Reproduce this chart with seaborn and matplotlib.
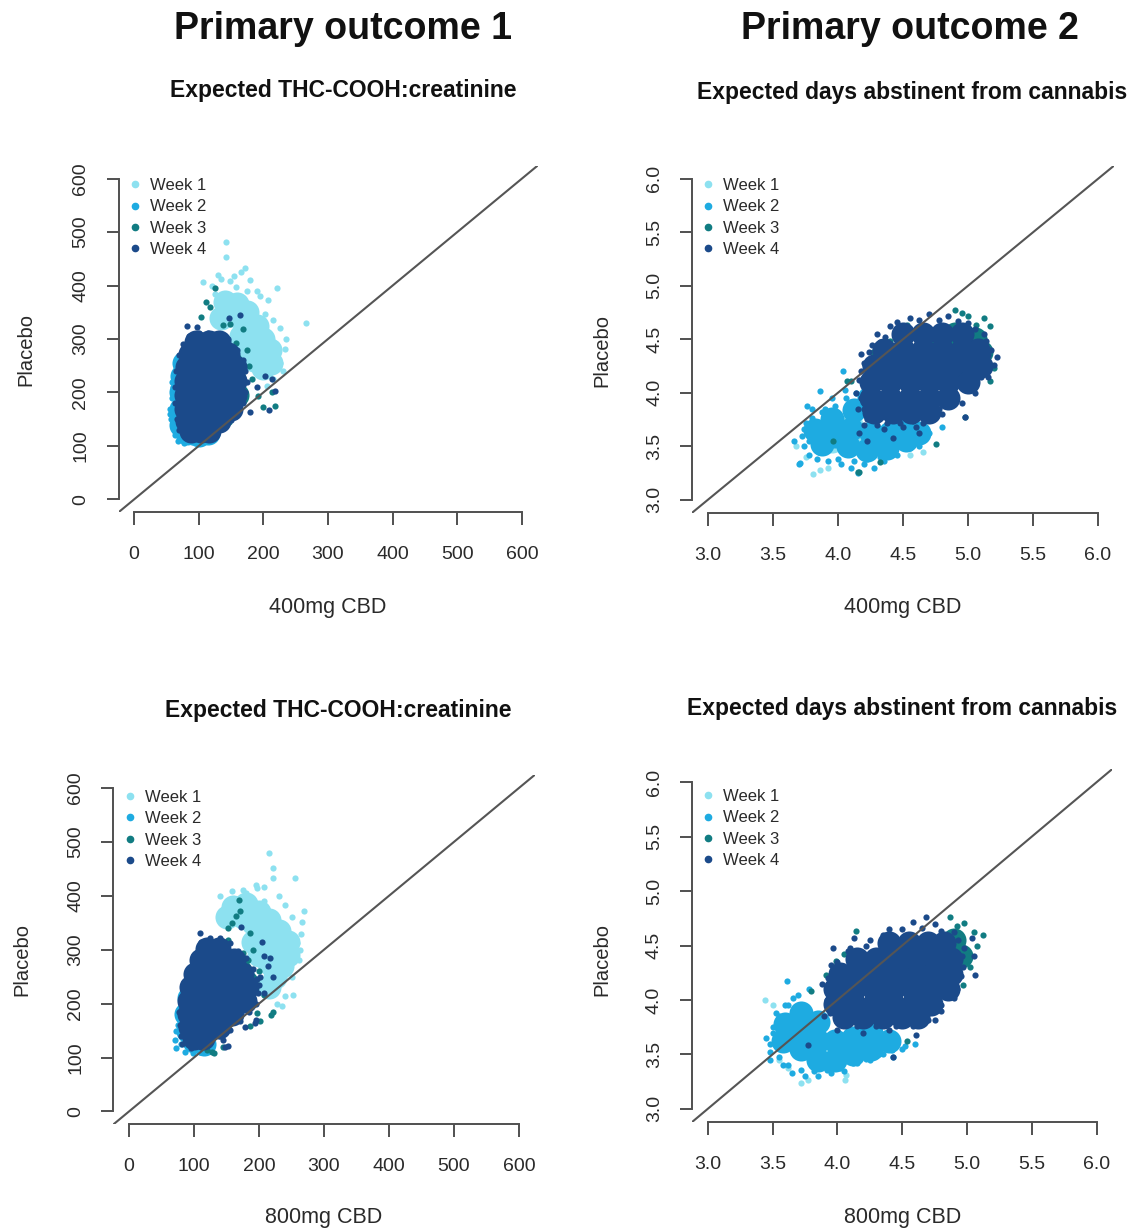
import matplotlib
matplotlib.use("Agg")
import matplotlib.pyplot as plt
import numpy as np
import pandas as pd
import seaborn as sns
from matplotlib.lines import Line2D

# ---------------- data ----------------
week_labels = ["Week 1", "Week 2", "Week 3", "Week 4"]
week_colors = ["#8de1f0", "#1eabe1", "#117c82", "#1b4a8a"]

thc_ticks = [0, 100, 200, 300, 400, 500, 600]
days_ticks = [3.0, 3.5, 4.0, 4.5, 5.0, 5.5, 6.0]

# Panel 1: THC-COOH, 400mg CBD (x) vs placebo (y)
p1_w1_core = [(140,370),(160,365),(175,350),(150,345),(170,330),(190,325),(200,300),(185,300),(165,305),(210,280),
              (195,275),(212,255),(200,245),(185,260),(178,280),(135,340)]
p1_w1_edge = [(142,482),(142,453),(171,432),(107,406),(155,417),(149,408),(158,398),(221,395),(207,373),(202,347),
              (266,330),(233,282),(226,256),(130,420),(165,425),(180,410),(190,390),(195,380),(225,320),(235,300),
              (220,290),(230,240),(215,225),(205,212),(120,400),(135,412),(175,390),(125,385),(215,335)]
p1_w2_core = [(72,140),(72,170),(72,200),(74,230),(78,255),(82,125),(100,120),(115,125)]
p1_w2_edge = [(57,150),(56,170),(58,190),(60,210),(62,230),(66,250),(60,135),(64,120),(68,110),(78,106),(90,108),
              (100,110),(110,112),(120,118),(55,160),(59,220),(70,265)]
p1_w3_core = [(150,255),(155,225),(160,195),(125,250),(140,220),(130,175)]
p1_w3_edge = [(125,396),(111,370),(103,342),(138,327),(169,318),(158,293),(174,280),(182,225),(191,194),(213,200),
              (218,175),(199,172),(147,144),(158,156),(117,360),(148,328),(178,250)]
p1_w4_core = [(96,294),(116,294),(132,294),
              (86,272),(106,272),(126,272),(146,272),
              (82,248),(102,248),(122,248),(142,248),(156,248),
              (80,222),(100,222),(120,222),(140,222),(156,222),
              (80,196),(100,196),(120,196),(140,196),(156,196),
              (80,170),(100,170),(120,170),(140,170),(150,170),
              (82,146),(100,146),(118,146),(132,146),
              (88,128),(104,128),(116,128)]
p1_w4_edge = [(82,325),(97,322),(147,340),(164,344),(66,150),(64,180),(64,210),(65,240),(70,270),(75,290),(85,305),
              (100,312),(115,312),(130,308),(145,300),(160,280),(168,260),(172,240),(174,220),(172,200),(168,180),
              (160,160),(150,148),(138,135),(125,122),(110,115),(95,115),(78,120),(70,130),(202,231),(213,225),
              (218,203),(180,163),(208,168),(190,210)]

# Panel 2: days abstinent, 400mg CBD (x) vs placebo (y)
p2_w1_core = [(3.95,3.55),(4.10,3.55),(4.25,3.55),(4.10,3.70)]
p2_w1_edge = [(3.81,3.24),(3.86,3.28),(3.75,3.40),(4.65,3.45),(4.55,3.42),(3.68,3.50),(3.92,3.30)]
p2_w2_core = [(3.82,3.65),(3.88,3.52),(3.95,3.75),(3.98,3.60),(4.08,3.50),(4.10,3.66),(4.12,3.84),(4.22,3.46),
              (4.25,3.62),(4.24,3.95),(4.38,3.48),(4.40,3.62),(4.52,3.56),(4.50,3.72),(4.62,3.62)]
p2_w2_edge = [(3.70,3.33),(3.72,3.60),(3.75,3.72),(3.80,3.85),(3.85,3.45),(3.90,3.85),(3.95,3.95),(4.00,3.38),
              (4.05,4.03),(4.10,3.30),(4.15,3.25),(4.20,3.33),(4.28,3.30),(4.35,3.36),(4.45,3.42),(4.55,3.48),
              (4.62,3.50),(4.70,3.62),(3.78,3.55),(3.66,3.55),(3.71,3.34),(3.76,3.88),(3.86,4.02),(4.04,4.20),
              (4.80,3.68),(3.74,3.50),(3.78,3.42),(3.84,3.38),(3.92,3.36),(4.02,3.33),(4.12,3.36),(4.22,3.38),
              (4.32,3.40),(4.42,3.46),(4.52,3.48),(4.64,3.55),(3.74,3.66),(3.80,3.76),(3.88,3.82),(3.98,3.88),
              (4.06,3.95),(4.14,4.00)]
p2_w3_core = [(4.90,4.55),(5.05,4.50),(5.10,4.38),(4.95,4.40),(4.75,4.45),(4.60,4.30),(4.80,4.20),(4.95,4.25)]
p2_w3_edge = [(5.06,4.63),(5.17,4.62),(4.95,4.75),(4.90,4.77),(5.20,4.23),(5.17,4.11),(4.98,3.77),(4.75,3.52),
              (4.21,4.26),(4.10,4.11),(4.27,4.38),(4.40,4.48),(3.96,3.55),(4.16,3.26),(4.32,3.35),(4.07,4.11),
              (4.53,4.63),(4.15,3.26),(5.12,4.70),(5.00,4.72)]
p2_w4_core = [(4.50,4.55),(4.65,4.55),(4.80,4.55),(4.95,4.55),
              (4.35,4.40),(4.50,4.40),(4.65,4.40),(4.80,4.40),(4.95,4.40),(5.08,4.40),
              (4.28,4.25),(4.43,4.25),(4.58,4.25),(4.73,4.25),(4.88,4.25),(5.03,4.25),(5.10,4.25),
              (4.25,4.10),(4.40,4.10),(4.55,4.10),(4.70,4.10),(4.85,4.10),(5.00,4.10),
              (4.25,3.95),(4.40,3.95),(4.55,3.95),(4.70,3.95),(4.85,3.95),
              (4.28,3.82),(4.42,3.82),(4.56,3.82),(4.70,3.82)]
p2_w4_edge = [(4.16,3.62),(4.42,3.58),(4.60,3.68),(4.98,3.77),(5.15,4.35),(5.20,4.26),(4.30,4.55),(4.40,4.62),
              (4.55,4.70),(4.70,4.74),(4.85,4.72),(5.00,4.65),(5.12,4.55),(5.18,4.40),(5.15,4.15),(5.05,4.00),
              (4.95,3.90),(4.80,3.80),(4.65,3.72),(4.50,3.68),(4.35,3.66),(4.20,3.70),(4.15,3.85),(4.14,4.00),
              (4.18,4.20),(4.24,4.38),(4.62,3.62),(5.22,4.33),(4.45,4.66),(4.32,4.47),(4.18,4.36),(4.22,3.55),
              (4.22,3.75),(4.30,3.70),(4.38,3.72),(4.48,3.72),(4.58,3.74),(4.68,3.76),(4.78,3.85),(4.90,3.95),
              (5.00,4.05),(5.10,4.15),(5.16,4.25),(5.14,4.48),(5.05,4.60),(4.92,4.67),(4.78,4.68),(4.62,4.68),
              (4.48,4.62),(4.36,4.52),(4.26,4.45),(4.20,4.28),(4.16,4.12),(4.18,3.95),(4.20,3.85)]

# Panel 3: THC-COOH, 800mg CBD (x) vs placebo (y)
p3_w1_core = [(160,380),(180,385),(200,370),(215,355),(230,335),(245,315),(245,290),(235,270),(225,250),(215,230),
              (200,330),(210,300),(190,350),(175,360),(225,310),(215,275),(200,290),(190,315),(150,360)]
p3_w1_edge = [(216,479),(222,451),(222,433),(255,433),(208,417),(197,414),(158,408),(180,405),(240,383),(269,371),
              (266,352),(258,312),(263,300),(249,281),(252,216),(236,195),(140,400),(195,420),(230,400),(250,360),
              (265,330),(262,280),(250,250),(240,215),(228,200),(208,390),(175,410)]
p3_w2_core = [(90,150),(88,180),(92,210),(100,130),(115,125)]
p3_w2_edge = [(71,133),(73,118),(86,111),(78,176),(83,201),(109,111),(98,108),(72,150),(75,160),(80,190),(86,215),
              (90,235),(95,250),(80,125),(120,113)]
p3_w3_core = [(150,280),(170,260),(180,240),(160,230),(175,210)]
p3_w3_edge = [(169,393),(164,362),(158,349),(186,331),(153,340),(183,281),(175,294),(219,179),(208,216),(131,108),
              (120,114),(186,158),(197,182),(222,185),(202,167),(145,120),(127,111),(153,318),(171,371),(190,300),(200,260)]
p3_w4_core = [(120,302),(138,302),
              (110,280),(128,280),(146,280),(162,280),
              (102,255),(120,255),(138,255),(156,255),(174,255),
              (96,230),(114,230),(132,230),(150,230),(168,230),(182,230),
              (92,205),(110,205),(128,205),(146,205),(164,205),(178,205),
              (92,180),(108,180),(124,180),(140,180),(158,180),
              (94,156),(110,156),(126,156),(138,156),
              (100,136),(114,136)]
p3_w4_edge = [(109,331),(205,315),(208,288),(214,269),(222,250),(208,220),(194,164),(145,133),(153,121),(80,140),
              (78,160),(77,185),(80,210),(85,240),(92,265),(100,290),(110,315),(125,322),(140,322),(155,312),
              (168,298),(180,285),(190,265),(197,245),(198,220),(195,200),(185,185),(170,168),(155,152),(140,140),
              (125,128),(110,120),(95,118),(82,125),(173,343),(217,285),(202,250),(200,235),(196,170),(178,157),(148,120)]

# Panel 4: days abstinent, 800mg CBD (x) vs placebo (y)
p4_w1_core = [(3.80,3.55),(3.95,3.55),(3.80,3.70)]
p4_w1_edge = [(3.44,4.00),(3.72,3.24),(3.77,3.27),(4.06,3.27),(4.07,3.31),(3.55,3.45),(3.62,3.38),(3.50,3.95)]
p4_w2_core = [(3.58,3.62),(3.60,3.78),(3.72,3.55),(3.72,3.72),(3.72,3.88),(3.85,3.45),(3.85,3.62),(3.85,3.80),
              (3.98,3.45),(3.98,3.62),(4.12,3.50),(4.12,3.65),(4.26,3.55),(4.26,3.70),(4.40,3.62)]
p4_w2_edge = [(3.45,3.65),(3.48,3.52),(3.50,3.75),(3.53,3.88),(3.61,4.17),(3.62,3.95),(3.58,3.40),(3.65,3.33),
              (3.75,3.30),(3.85,3.30),(3.95,3.33),(4.05,3.35),(4.15,3.42),(4.25,3.45),(4.35,3.50),(4.50,3.55),
              (3.70,4.05),(3.78,4.10),(3.48,3.45),(4.43,3.48),(4.60,3.60),(3.48,3.60),(3.50,3.70),(3.55,3.85),
              (3.60,3.95),(3.66,4.02),(3.55,3.48),(3.62,3.40),(3.72,3.36),(3.82,3.35),(3.92,3.36),(4.02,3.38),
              (4.12,3.42),(4.22,3.46),(4.32,3.50),(4.42,3.54),(4.52,3.58)]
p4_w3_core = [(4.90,4.55),(4.95,4.40),(4.80,4.45),(4.70,4.30),(4.85,4.25),(4.55,4.20)]
p4_w3_edge = [(4.14,4.63),(5.12,4.60),(4.98,4.71),(4.87,4.76),(5.05,4.62),(5.08,4.50),(4.97,4.14),(4.54,3.62),
              (3.80,4.08),(3.91,4.23),(3.99,4.36),(4.05,4.42),(5.02,4.30),(4.92,4.68)]
p4_w4_core = [(4.40,4.52),(4.55,4.52),(4.70,4.52),(4.82,4.52),
              (4.15,4.38),(4.30,4.38),(4.45,4.38),(4.60,4.38),(4.75,4.38),(4.88,4.38),
              (4.02,4.24),(4.17,4.24),(4.32,4.24),(4.47,4.24),(4.62,4.24),(4.77,4.24),(4.88,4.24),
              (3.98,4.10),(4.13,4.10),(4.28,4.10),(4.43,4.10),(4.58,4.10),(4.73,4.10),(4.85,4.10),
              (3.98,3.96),(4.13,3.96),(4.28,3.96),(4.43,3.96),(4.58,3.96),(4.72,3.96),
              (4.05,3.84),(4.20,3.84),(4.35,3.84),(4.50,3.84),(4.62,3.84)]
p4_w4_edge = [(3.97,4.48),(4.13,4.57),(4.68,4.76),(5.06,4.23),(4.75,3.82),(4.61,3.68),(4.43,3.48),(3.77,3.59),
              (5.04,4.57),(3.88,4.15),(3.90,3.85),(4.00,3.72),(4.20,3.70),(4.40,3.72),(4.60,3.80),(4.80,3.95),
              (4.92,4.10),(4.97,4.30),(4.98,4.48),(4.90,4.62),(4.75,4.70),(4.58,4.72),(4.40,4.65),(4.25,4.55),
              (4.08,4.45),(3.95,4.32),(5.05,4.40),(3.92,4.00),(3.93,4.20),(4.00,4.35),(4.10,4.48),(4.22,4.50),
              (4.35,4.60),(4.50,4.65),(4.65,4.66),(4.80,4.63),(4.93,4.55),(4.96,4.40),(4.95,4.22),(4.90,4.02),
              (4.80,3.90),(4.70,3.82),(4.58,3.76),(4.45,3.76),(4.30,3.76),(4.15,3.76),(4.00,3.80),(3.94,3.88)]

# ---------------- style / layout ----------------
sns.set_style("white")
plt.rcParams["font.family"] = ["Liberation Sans", "DejaVu Sans"]

W, H = 1139, 1230
fig = plt.figure(figsize=(W / 100, H / 100), dpi=100)

AX_COL = "#505050"
TXT_COL = "#2a2a2a"
CORE_S = 300
EDGE_S = 20


def add_axes_px(l, t, r, b):
    return fig.add_axes([l / W, 1 - b / H, (r - l) / W, (b - t) / H])


panels = [
    dict(box=(118.5, 165.7, 537.5, 512.3), data=[(p1_w1_core, p1_w1_edge), (p1_w2_core, p1_w2_edge),
         (p1_w3_core, p1_w3_edge), (p1_w4_core, p1_w4_edge)], ticks=thc_ticks, fmt="{:d}",
         xlabel="400mg CBD", xlab_y=607, ylab_x=26, ylab_y=350, leg=(135, 184)),
    dict(box=(692.4, 166.0, 1113.6, 512.5), data=[(p2_w1_core, p2_w1_edge), (p2_w2_core, p2_w2_edge),
         (p2_w3_core, p2_w3_edge), (p2_w4_core, p2_w4_edge)], ticks=days_ticks, fmt="{:.1f}",
         xlabel="400mg CBD", xlab_y=607, ylab_x=602, ylab_y=350, leg=(708, 184)),
    dict(box=(113.4, 775.0, 534.6, 1124.4), data=[(p3_w1_core, p3_w1_edge), (p3_w2_core, p3_w2_edge),
         (p3_w3_core, p3_w3_edge), (p3_w4_core, p3_w4_edge)], ticks=thc_ticks, fmt="{:d}",
         xlabel="800mg CBD", xlab_y=1218, ylab_x=22, ylab_y=960, leg=(130, 796)),
    dict(box=(692.1, 769.0, 1112.3, 1122.0), data=[(p4_w1_core, p4_w1_edge), (p4_w2_core, p4_w2_edge),
         (p4_w3_core, p4_w3_edge), (p4_w4_core, p4_w4_edge)], ticks=days_ticks, fmt="{:.1f}",
         xlabel="800mg CBD", xlab_y=1218, ylab_x=602, ylab_y=960, leg=(708, 795)),
]

for p in panels:
    l, t, r, b = p["box"]
    ax = add_axes_px(l, t, r, b)
    ticks = p["ticks"]
    lo, hi = ticks[0], ticks[-1]
    pad = 0.04 * (hi - lo)

    for color, (core, edge) in zip(week_colors, p["data"]):
        dfc = pd.DataFrame(core, columns=["x", "y"])
        sns.scatterplot(data=dfc, x="x", y="y", s=CORE_S, color=color, linewidth=0,
                        ax=ax, legend=False, zorder=2)
        dfe = pd.DataFrame(edge, columns=["x", "y"])
        sns.scatterplot(data=dfe, x="x", y="y", s=EDGE_S, color=color, linewidth=0,
                        ax=ax, legend=False, zorder=2)

    ax.set_xlim(lo - pad, hi + pad)
    ax.set_ylim(lo - pad, hi + pad)
    ax.axline((lo, lo), slope=1, color="#555555", lw=1.5, zorder=3)

    for s in ["top", "right"]:
        ax.spines[s].set_visible(False)
    for s in ["left", "bottom"]:
        ax.spines[s].set_bounds(lo, hi)
        ax.spines[s].set_color(AX_COL)
        ax.spines[s].set_linewidth(1.4)

    labels = [p["fmt"].format(v) for v in ticks]
    ax.set_xticks(ticks)
    ax.set_xticklabels(labels)
    ax.set_yticks(ticks)
    ax.set_yticklabels(labels)
    ax.tick_params(axis="both", direction="out", length=9, width=1.4, color=AX_COL,
                   labelsize=14, labelcolor=TXT_COL, bottom=True, left=True)
    ax.tick_params(axis="x", pad=15.5)
    ax.tick_params(axis="y", pad=12, labelrotation=90)
    for lab in ax.get_yticklabels():
        lab.set_va("center")

    aw, ah = r - l, b - t
    ax.set_xlabel(p["xlabel"], fontsize=15.5, color=TXT_COL, va="center")
    ax.xaxis.set_label_coords(0.5, 1 - (p["xlab_y"] - t) / ah)
    ax.set_ylabel("Placebo", fontsize=14.5, color=TXT_COL, va="center", rotation=90)
    ax.yaxis.set_label_coords((p["ylab_x"] - l) / aw, 1 - (p["ylab_y"] - t) / ah)

    handles = [Line2D([], [], marker="o", ls="", color=c, markersize=4.5) for c in week_colors]
    mx, my = p["leg"]
    fs = 12
    fpx = fs / 72 * 100
    ax.legend(handles, week_labels, loc="upper left", frameon=False, fontsize=fs,
              bbox_to_anchor=((mx - 0.3 * fpx - l) / aw, 1 - (my - 0.36 * fpx - t) / ah),
              borderpad=0, borderaxespad=0, handlelength=0.6, handletextpad=0.6,
              labelspacing=0.38, labelcolor=TXT_COL)

# titles
def fig_text(x, y, s, **kw):
    fig.text(x / W, 1 - y / H, s, ha="center", va="center", color="#111111", **kw)

fig_text(343, 29, "Primary outcome 1", fontsize=27, fontweight="bold")
fig_text(910, 29, "Primary outcome 2", fontsize=27, fontweight="bold")
fig_text(343.5, 91, "Expected THC-COOH:creatinine", fontsize=16.5, fontweight="bold")
fig_text(912, 93, "Expected days abstinent from cannabis", fontsize=16.5, fontweight="bold")
fig_text(338.5, 711, "Expected THC-COOH:creatinine", fontsize=16.5, fontweight="bold")
fig_text(902, 709, "Expected days abstinent from cannabis", fontsize=16.5, fontweight="bold")

fig.savefig("out.png", dpi=100, facecolor="white")
